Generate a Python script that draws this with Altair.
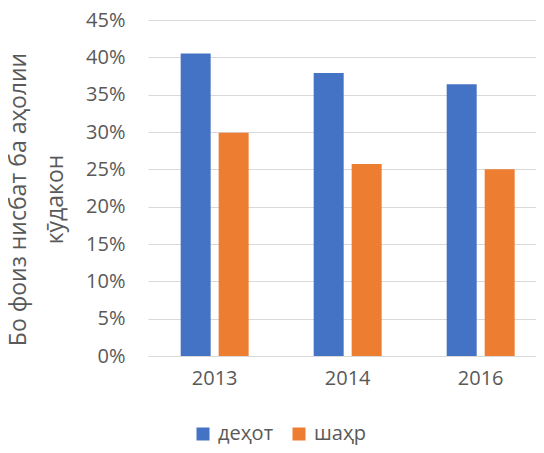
import altair as alt
import pandas as pd

years = ["2013", "2014", "2016"]
series = ["деҳот", "шаҳр"]
dehot = [0.405, 0.379, 0.364]
shahr = [0.299, 0.257, 0.250]
y_ticks = [0, 0.05, 0.10, 0.15, 0.20, 0.25, 0.30, 0.35, 0.40, 0.45]
y_title = ["Бо фоиз нисбат ба аҳолии", "кӯдакон"]
colors = ["#4472C4", "#ED7D31"]

rows = []
for i, yr in enumerate(years):
    rows.append({"year": yr, "series": series[0], "value": dehot[i]})
    rows.append({"year": yr, "series": series[1], "value": shahr[i]})
df = pd.DataFrame(rows)

FONT = "Open Sans"
GRAY = "#595959"

chart = alt.Chart(df).mark_bar().encode(
    x=alt.X(
        "year:N", sort=years, title=None,
        scale=alt.Scale(paddingInner=0.489, paddingOuter=0.203, align=0.605),
        axis=alt.Axis(labelAngle=0, ticks=False, grid=False, domainColor="#d9d9d9",
                      domainWidth=1, labelFontSize=20, labelColor=GRAY,
                      labelPadding=12, labelFont=FONT),
    ),
    xOffset=alt.XOffset("series:N", sort=series,
                        scale=alt.Scale(paddingInner=0.2105, paddingOuter=0)),
    y=alt.Y(
        "value:Q",
        scale=alt.Scale(domain=[0, 0.45], nice=False),
        axis=alt.Axis(values=y_ticks, format=".0%", ticks=False, domain=False,
                      gridColor="#d9d9d9", gridWidth=1, labelFontSize=20,
                      labelColor=GRAY, labelFont=FONT, labelPadding=23,
                      title=y_title, titleFont=FONT, titleFontSize=23,
                      titleFontWeight="normal", titleColor=GRAY, titleAngle=270,
                      titleAlign="center", titleBaseline="middle",
                      titleLineHeight=37, titleX=-130, titleY=179),
    ),
    color=alt.Color(
        "series:N", sort=series,
        scale=alt.Scale(domain=series, range=colors),
        legend=alt.Legend(title=None, orient="none", legendX=45, legendY=404,
                          direction="horizontal", symbolType="square",
                          symbolSize=169, symbolStrokeWidth=0,
                          labelFontSize=20, labelFont=FONT, labelColor=GRAY,
                          labelOffset=5, columnPadding=15),
    ),
).properties(
    width=388, height=336,
    padding={"left": 140, "top": 12, "right": 0, "bottom": 89},
    autosize=alt.AutoSizeParams(type="none"),
).configure_view(stroke=None)

chart.save("out.html", embed_options={"renderer": "svg", "actions": False})
